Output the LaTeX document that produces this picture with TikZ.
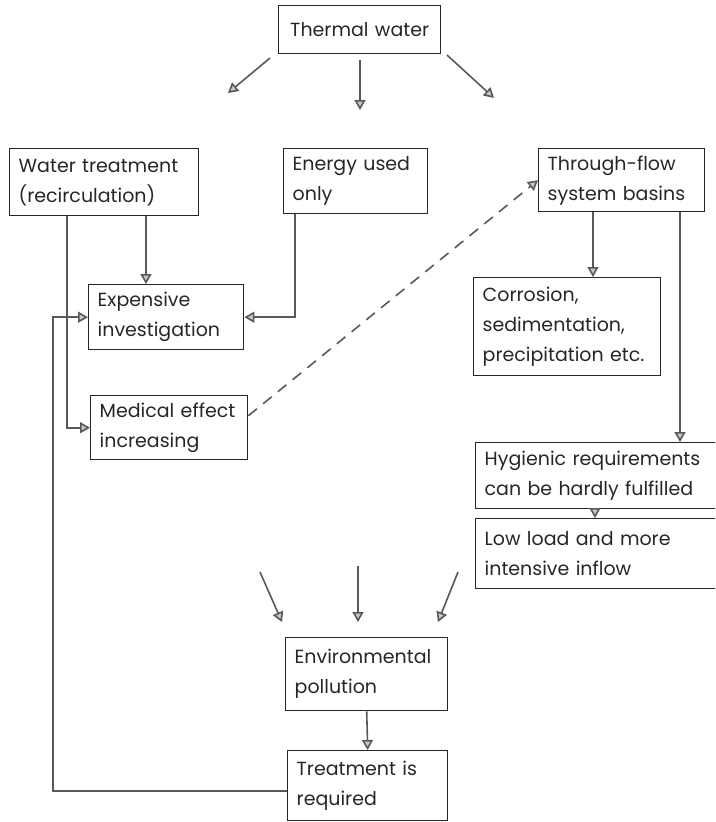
\documentclass[tikz,border=0pt]{standalone}
\usepackage{fontspec}
\setmainfont{Poppins}
\usetikzlibrary{arrows.meta}

\tikzset{
  box/.style={draw=black!85, line width=1.4pt, anchor=north west, align=left,
    inner xsep=9pt, inner ysep=0pt, font=\fontsize{19}{30}\selectfont, text=black!85},
  arr/.style={draw=gray!70!black, line width=1.6pt,
    -{Triangle[length=10pt,width=11pt,fill=gray!45]}},
}

\begin{document}
\begin{tikzpicture}[x=1pt,y=-1pt]
    \useasboundingbox (0,0) rectangle (715,822);
    \clip (0,0) rectangle (715,822);
    % boxes
    \node[box, align=center, text width=144pt, minimum height=48pt] (thermal) at (278,5) {Thermal water};
    \node[box, text width=171pt, minimum height=67pt] (water) at (9,148) {Water treatment\\(recirculation)};
    \node[box, text width=126pt, minimum height=65pt] (energy) at (283,148) {Energy used\\only};
    \node[box, text width=148pt, minimum height=63pt] (through) at (538,148) {Through-flow\\system basins};
    \node[box, text width=137pt, minimum height=65pt] (expens) at (88,284) {Expensive\\investigation};
    \node[box, text width=139pt, minimum height=64pt] (medical) at (90,395) {Medical effect\\increasing};
    \node[box, text width=169pt, minimum height=98pt] (corros) at (473,277) {Corrosion,\\sedimentation,\\precipitation etc.};
    \node[box, text width=232pt, minimum height=66pt] (hygien) at (475,442) {Hygienic requirements\\can be hardly fulfilled};
    \node[box, text width=232pt, minimum height=70pt] (lowload) at (475,518) {Low load and more\\intensive inflow};
    \node[box, text width=144pt, minimum height=73pt] (environ) at (285,637) {Environmental\\pollution};
    \node[box, text width=142pt, minimum height=70pt] (treat) at (287,750) {Treatment is\\required};
    % free ends
    \coordinate (t1a) at (270,58);  \coordinate (t1b) at (228,93);
    \coordinate (t2a) at (360,60);  \coordinate (t2b) at (360,110);
    \coordinate (t3a) at (447,55);  \coordinate (t3b) at (494,98);
    \coordinate (e1a) at (260,572); \coordinate (e1b) at (282,622);
    \coordinate (e2a) at (358,566); \coordinate (e2b) at (358,622);
    \coordinate (e3a) at (458,572); \coordinate (e3b) at (438,622);
    \coordinate (loop) at (53,0);
    % arrows
    \draw[arr] (t1a) -- (t1b);
    \draw[arr] (t2a) -- (t2b);
    \draw[arr] (t3a) -- (t3b);
    \draw[arr] ([xshift=137pt]water.south west) -- ([xshift=137pt]water.south west |- expens.north);
    \draw[arr] ([xshift=58pt]water.south west) |- (medical.west);
    \draw[arr] ([xshift=12pt]energy.south west) |- (expens.east);
    \draw[arr, dash pattern=on 11pt off 8pt] ([yshift=12pt]medical.east) -- (through.west);
    \draw[arr] ([xshift=55pt]through.south west) -- ([xshift=55pt]through.south west |- corros.north);
    \draw[arr] ([xshift=142pt]through.south west) -- ([xshift=142pt]through.south west |- hygien.north);
    \draw[arr] ([xshift=120pt]hygien.south west) -- ([xshift=120pt]hygien.south west |- lowload.north);
    \draw[arr] (e1a) -- (e1b);
    \draw[arr] (e2a) -- (e2b);
    \draw[arr] (e3a) -- (e3b);
    \draw[arr] (environ.south) -- (treat.north);
    \draw[arr] ([yshift=-5pt]treat.west) -| (loop |- expens.west) -- (expens.west);
\end{tikzpicture}
\end{document}
